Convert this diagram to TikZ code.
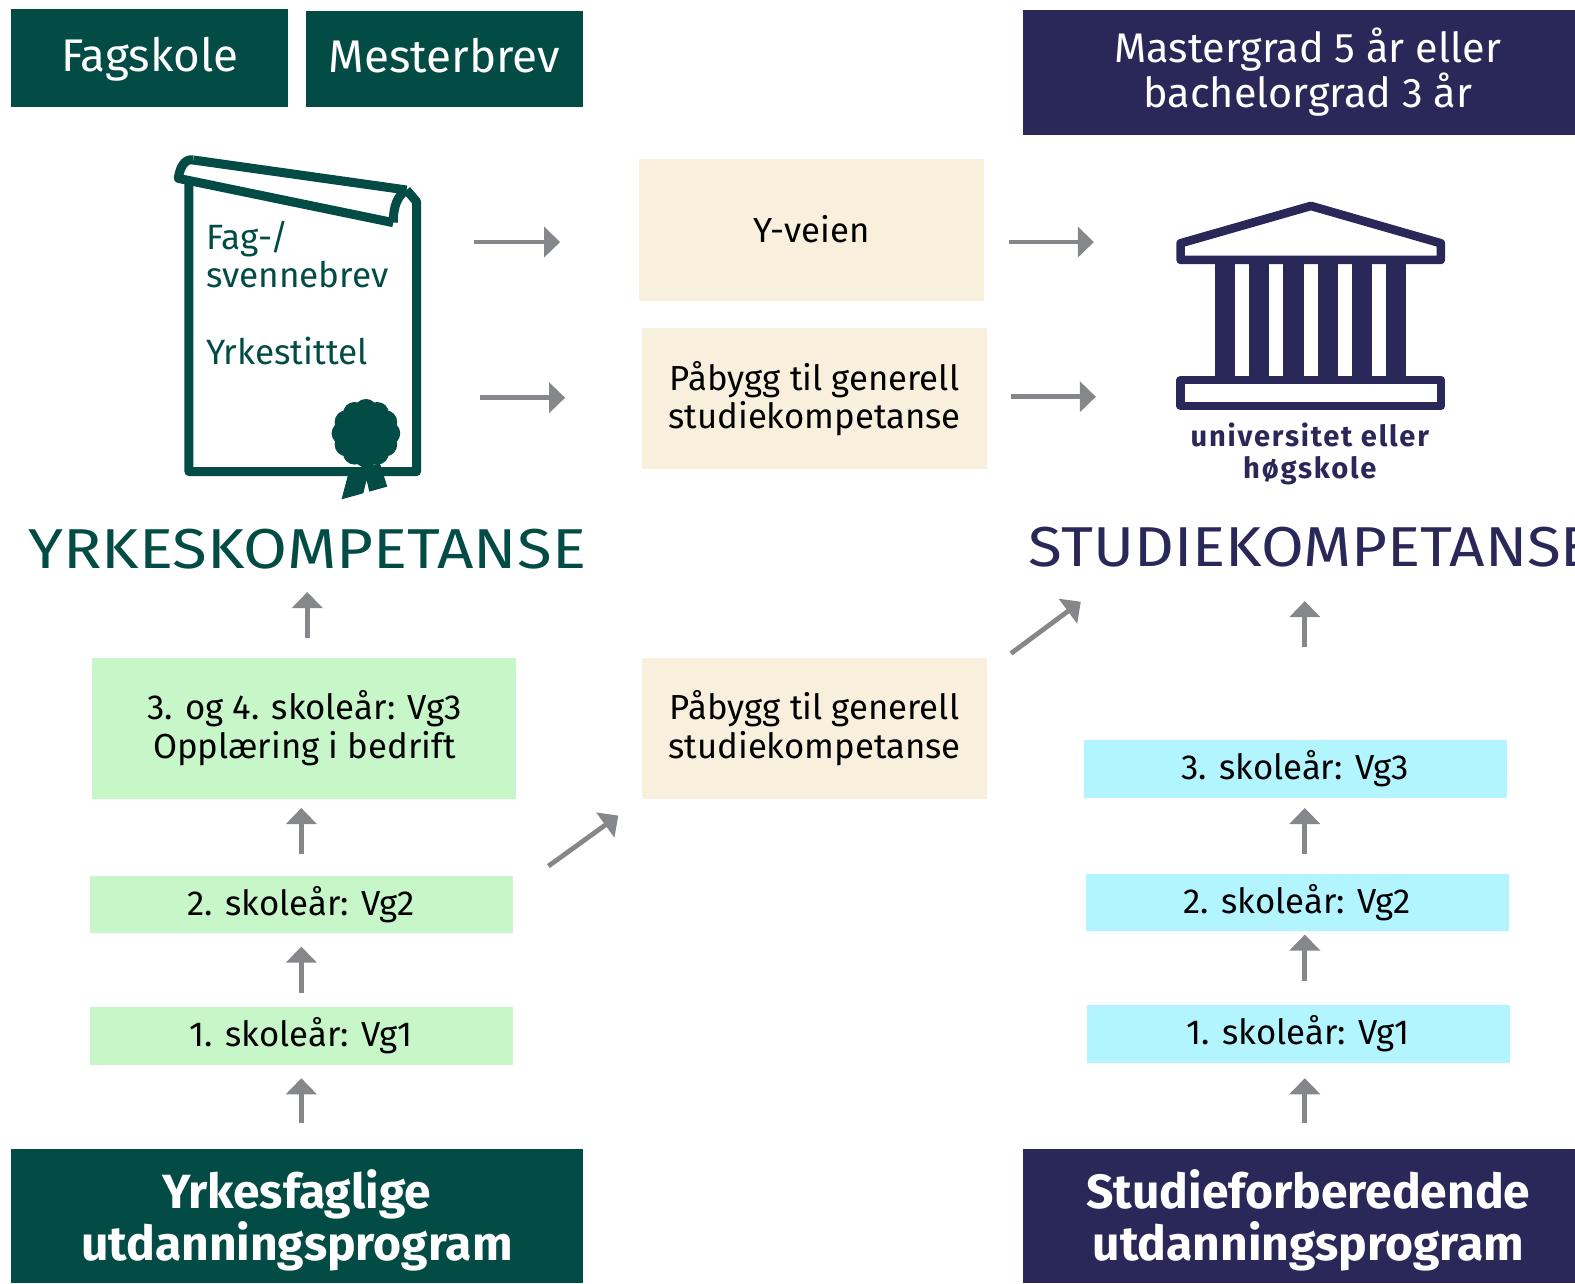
\documentclass[tikz,border=0pt]{standalone}
\usepackage{fontspec}
\setmainfont{Fira Sans}
\usetikzlibrary{arrows.meta}
\definecolor{oslogreen}{HTML}{034B45}
\definecolor{oslonavy}{HTML}{2A2859}
\definecolor{oslolight}{HTML}{C7F6C9}
\definecolor{oslocyan}{HTML}{B3F5FF}
\definecolor{oslobeige}{HTML}{F8F0DD}
\definecolor{pilgrey}{HTML}{86878B}
\tikzset{
  tbox/.style={inner sep=0pt,align=center,text=black,font=\fontsize{17.3}{19}\selectfont},
  shortbox/.style={tbox,minimum width=210.5pt,minimum height=28.5pt},
  tallbox/.style={tbox,minimum width=172pt,minimum height=70pt},
  headbox/.style={inner sep=0pt,align=center,text=white,text height=17pt,text depth=3pt,font=\fontsize{22.8}{24}\selectfont},
  headtext/.style={inner sep=0pt,align=center,text=white,font=\fontsize{20.6}{22.5}\selectfont},
  footbox/.style={inner sep=0pt,minimum height=66.5pt},
  foottext/.style={inner sep=0pt,align=center,text=white,font=\fontsize{23.9}{26}\selectfont\bfseries},
  bigtitle/.style={inner sep=0pt,anchor=base west,text depth=0pt,font=\fontsize{28}{30}\selectfont\addfontfeature{FakeStretch=#1}},
  pil/.style={draw=pilgrey,line width=2.4pt,-{Triangle[length=8pt,width=15pt]}},
}
\begin{document}
\begin{tikzpicture}[x=0.5pt,y=-0.5pt]
\useasboundingbox (0,0) rectangle (1568,1278);
\node[headbox,fill=oslogreen,minimum width=138pt,minimum height=49pt] (fagskole) at (149,57.5) {Fagskole};
\node[headbox,fill=oslogreen,minimum width=137.5pt,minimum height=48pt] (mesterbrev) at (442.5,58.5) {Mesterbrev};
\node[fill=oslonavy,inner sep=0pt,minimum width=275pt,minimum height=62pt] (mastergrad) at (1293,72) {};
\node[headtext] (mastertekst) at (1302,72) {Mastergrad 5 år eller\\bachelorgrad 3 år};
\node[tbox,fill=oslobeige,minimum width=172pt,minimum height=70.5pt] (yveien) at (808,229) {\raisebox{1pt}{Y-veien}};
\node[tallbox,fill=oslobeige] (paabyggA) at (811,396.5) {Påbygg til generell\\studiekompetanse};
\node[tallbox,fill=oslobeige] (paabyggB) at (811,725) {Påbygg til generell\\studiekompetanse};
\node[tallbox,minimum width=211pt,fill=oslolight] (vgtreY) at (303,725) {3. og 4. skoleår: Vg3\\Opplæring i bedrift};
\node[shortbox,fill=oslolight] (vgtoY) at (300,900.5) {2. skoleår: Vg2};
\node[shortbox,fill=oslolight] (vgenY) at (300,1031.5) {1. skoleår: Vg1};
\node[shortbox,fill=oslocyan] (vgtreS) at (1289.5,765.5) {3. skoleår: Vg3};
\node[shortbox,fill=oslocyan] (vgtoS) at (1291.5,898.5) {2. skoleår: Vg2};
\node[shortbox,fill=oslocyan] (vgenS) at (1292.5,1029.5) {1. skoleår: Vg1};
\node[footbox,fill=oslogreen,minimum width=284.5pt] (yrkesfag) at (295.5,1210.5) {};
\node[footbox,fill=oslonavy,minimum width=275pt] (studiefor) at (1293,1210.5) {};
\node[foottext] (yrkesfagT) at (295.5,1215) {Yrkesfaglige\\utdanningsprogram};
\node[foottext] (studieforT) at (1302.5,1215) {Studieforberedende\\utdanningsprogram};
\node[bigtitle=1.13,text=oslogreen] (yrkeT) at (28,566) {YRKESKOMPETANSE};
\node[bigtitle=1.1,text=oslonavy] (studieT) at (1024,564) {STUDIEKOMPETANSE};
\begin{scope}[shift={(149.3,139.4)},x=0.1659pt,y=-0.1659pt,line width=4.5pt,line join=round]
\draw[oslogreen] (117,120) -- (117,995) -- (800,995) -- (800,185) -- (770,150);
\draw[oslogreen] (130,60) -- (770,150);
\draw[oslogreen] (730,248) -- (85,115) .. controls (90,80) and (105,55) .. (130,60);
\draw[oslogreen] (770,150) .. controls (745,165) and (730,195) .. (730,248);
\fill[oslogreen] (598,990) -- (575,1078) -- (640,1060) -- (650,1020) -- (658,1055) -- (712,1040) -- (690,970) -- cycle;
\fill[oslogreen] (648,880) circle (80);
\foreach \a in {0,30,...,330} \fill[oslogreen] (648,880) ++(\a:68) circle (35);
\end{scope}
\node[inner sep=0pt,anchor=north west,align=left,text=oslogreen,font=\fontsize{17.5}{19}\selectfont] (brev) at (205,220) {Fag-/\\svennebrev\\[19pt]Yrkestittel};
\begin{scope}[shift={(1144.8,189.1)},x=0.1659pt,y=-0.1659pt,line width=4.3pt,line join=round]
\draw[oslonavy] (92,160) -- (483,48) -- (873,160) -- (873,210) -- (92,210) -- cycle;
\draw[oslonavy] (92,570) rectangle (873,648);
\foreach \xa in {194,297,400,503,606,708} \fill[oslonavy] (\xa,210) rectangle ++(61,360);
\end{scope}
\node[inner sep=0pt,align=center,text=oslonavy,font=\fontsize{14.5}{16}\selectfont\bfseries\addfontfeature{LetterSpace=6}] (hogskole) at (1304,452) {universitet eller\\høgskole};
\coordinate (brevA) at (472,241);
\coordinate (brevB) at (478,396);
\coordinate (innA) at (1089,241);
\coordinate (innB) at (1091,395);
\coordinate (studX) at (1299,0);
\coordinate (skraEnd) at (1076,599);
\draw[pil,shorten >=39pt] (brevA) -- (brevA -| yveien.west);
\draw[pil,shorten >=38pt] (brevB) -- (brevB -| paabyggA.west);
\draw[pil,shorten <=12pt] (innA -| yveien.east) -- (innA);
\draw[pil,shorten <=11.5pt] (innB -| paabyggA.east) -- (innB);
\draw[pil,shorten <=13pt,shorten >=6.5pt] (yrkesfag.north -| vgenY.south) -- (vgenY.south);
\draw[pil,shorten <=7pt,shorten >=6.5pt] (vgenY.north) -- (vgtoY.south);
\draw[pil,shorten <=10.5pt,shorten >=4.5pt] (vgtoY.north) -- (vgtoY.north |- vgtreY.south);
\draw[pil,shorten <=9.5pt,shorten >=11.5pt] (vgtreY.north -| yrkeT.south) -- (yrkeT.south);
\draw[pil,shorten <=13pt,shorten >=7.5pt] (studiefor.north -| studX) -- (vgenS.south -| studX);
\draw[pil,shorten <=12pt,shorten >=1.5pt] (vgenS.north -| studX) -- (vgtoS.south -| studX);
\draw[pil,shorten <=9.5pt,shorten >=5pt] (vgtoS.north -| studX) -- (vgtreS.south -| studX);
\draw[pil,shorten <=46pt,shorten >=17pt] (vgtreS.north -| studX) -- (studieT.south -| studX);
\draw[pil,shorten <=21.6pt,shorten >=14.2pt] ([yshift=6.5pt]vgtoY.east) -- (paabyggB.south west);
\draw[pil,shorten <=3.4pt] ([xshift=8.8pt]paabyggB.north east) -- (skraEnd);
\end{tikzpicture}
\end{document}
